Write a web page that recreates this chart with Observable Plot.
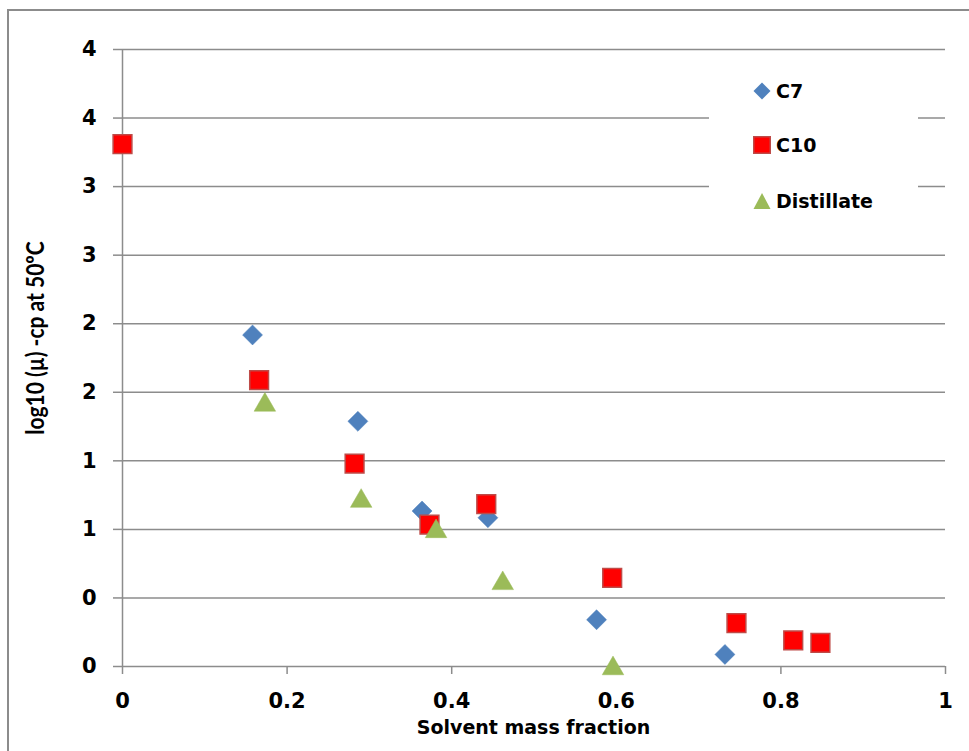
<!DOCTYPE html>
<html><head><meta charset="utf-8">
<script src="https://cdn.jsdelivr.net/npm/d3@7"></script>
<script src="https://cdn.jsdelivr.net/npm/@observablehq/plot@0.6"></script>
<style>
body{margin:0;background:#fff;}
#wrap{position:relative;width:969px;height:751px;overflow:hidden;font-family:"DejaVu Sans",sans-serif;font-weight:bold;color:#000;}
#frame{position:absolute;left:7px;top:9px;width:1000px;height:800px;border-left:2px solid #8c8c8c;border-top:2px solid #8c8c8c;}
#chart{position:absolute;left:0;top:0;}
#xtitle{position:absolute;left:122px;width:823px;top:716px;text-align:center;font-size:19px;}
#ytitle{position:absolute;left:34px;top:338px;transform:translate(-50%,-50%) rotate(-90deg) scaleY(1.2);white-space:nowrap;font-size:21px;font-family:Lato,sans-serif;}
#legend{position:absolute;left:709px;top:66px;width:209px;height:150px;background:#fff;}
.lg{position:absolute;left:44px;display:flex;align-items:center;font-size:19px;height:24px;}
.lg svg{margin-right:5px;}
</style></head>
<body>
<div id="wrap">
<div id="frame"></div>
<div id="chart"></div>
<div id="xtitle">Solvent mass fraction</div>
<div id="ytitle">log10 (µ) -cp at 50ºC</div>
<div id="legend"></div>
</div>
<script>
const seriesNames = ["C7", "C10", "Distillate"];
const c7X = [0.158, 0.286, 0.364, 0.444, 0.576, 0.732];
const c7Y = [2.418, 1.788, 1.134, 1.085, 0.341, 0.088];
const c10X = [0, 0.166, 0.282, 0.373, 0.442, 0.595, 0.746, 0.815, 0.848];
const c10Y = [3.81, 2.088, 1.48, 1.034, 1.185, 0.647, 0.316, 0.19, 0.173];
const distX = [0.173, 0.290, 0.381, 0.462, 0.596];
const distY = [1.929, 1.228, 1.007, 0.628, 0.007];
const yTicks = [0, 0.5, 1, 1.5, 2, 2.5, 3, 3.5, 4, 4.5];
const yTickLabels = ["0", "0", "1", "1", "2", "2", "3", "3", "4", "4"];
const xTicks = [0, 0.2, 0.4, 0.6, 0.8, 1];
const xTickLabels = ["0", "0.2", "0.4", "0.6", "0.8", "1"];

const c7 = c7X.map((x, i) => ({x, y: c7Y[i]}));
const c10 = c10X.map((x, i) => ({x, y: c10Y[i]}));
const dist = distX.map((x, i) => ({x, y: distY[i]}));

const grid = "#8c8c8c";
const chart = Plot.plot({
  width: 969, height: 751,
  marginLeft: 122, marginRight: 24, marginTop: 49, marginBottom: 85,
  style: {fontFamily: "'DejaVu Sans', sans-serif", fontWeight: "bold", fontSize: "21px", color: "#000", background: "transparent"},
  x: {domain: [0, 1]},
  y: {domain: [0, 4.5]},
  marks: [
    Plot.gridY(yTicks, {stroke: grid, strokeOpacity: 1, strokeWidth: 1.5}),
    Plot.axisY({ticks: yTicks, tickFormat: d => yTickLabels[yTicks.indexOf(d)], tickSize: 9, tickPadding: 17, stroke: grid, strokeWidth: 1.5, fontSize: 21, fontWeight: "bold", label: null}),
    Plot.axisX({ticks: xTicks, tickFormat: d => xTickLabels[xTicks.indexOf(d)], tickSize: 8, tickPadding: 19, stroke: grid, strokeWidth: 1.5, fontSize: 21, fontWeight: "bold", label: null}),
    Plot.ruleX([0], {stroke: grid, strokeWidth: 1.5}),
    Plot.dot(c7, {x: "x", y: "y", symbol: "diamond2", r: 9, fill: "#4F81BD", stroke: "#4A7EBB", strokeWidth: 0.5}),
    Plot.dot(c10, {x: "x", y: "y", symbol: "square", r: 10.6, fill: "#FF0000", stroke: "#BE4B48", strokeWidth: 1.5}),
    Plot.dot(dist, {x: "x", y: "y", symbol: "triangle", r: 8, dy: 3, fill: "#9BBB59", stroke: "#9BBB59", strokeWidth: 0.5})
  ]
});
document.getElementById("chart").appendChild(chart);

const legendSymbols = [
  '<svg width="18" height="18"><path d="M9,0.5L17.5,9L9,17.5L0.5,9Z" fill="#4F81BD"/></svg>',
  '<svg width="18" height="18"><rect x="0.75" y="0.75" width="16.5" height="16.5" fill="#FF0000" stroke="#BE4B48" stroke-width="1.5"/></svg>',
  '<svg width="18" height="18"><path d="M9,1L17.5,17L0.5,17Z" fill="#9BBB59"/></svg>'
];
const legendCenters = [25, 79, 135];
const lg = document.getElementById("legend");
seriesNames.forEach((n, i) => {
  const d = document.createElement("div");
  d.className = "lg";
  d.style.top = (legendCenters[i] - 12) + "px";
  d.innerHTML = legendSymbols[i] + "<span>" + n + "</span>";
  lg.appendChild(d);
});
</script>
</body></html>
